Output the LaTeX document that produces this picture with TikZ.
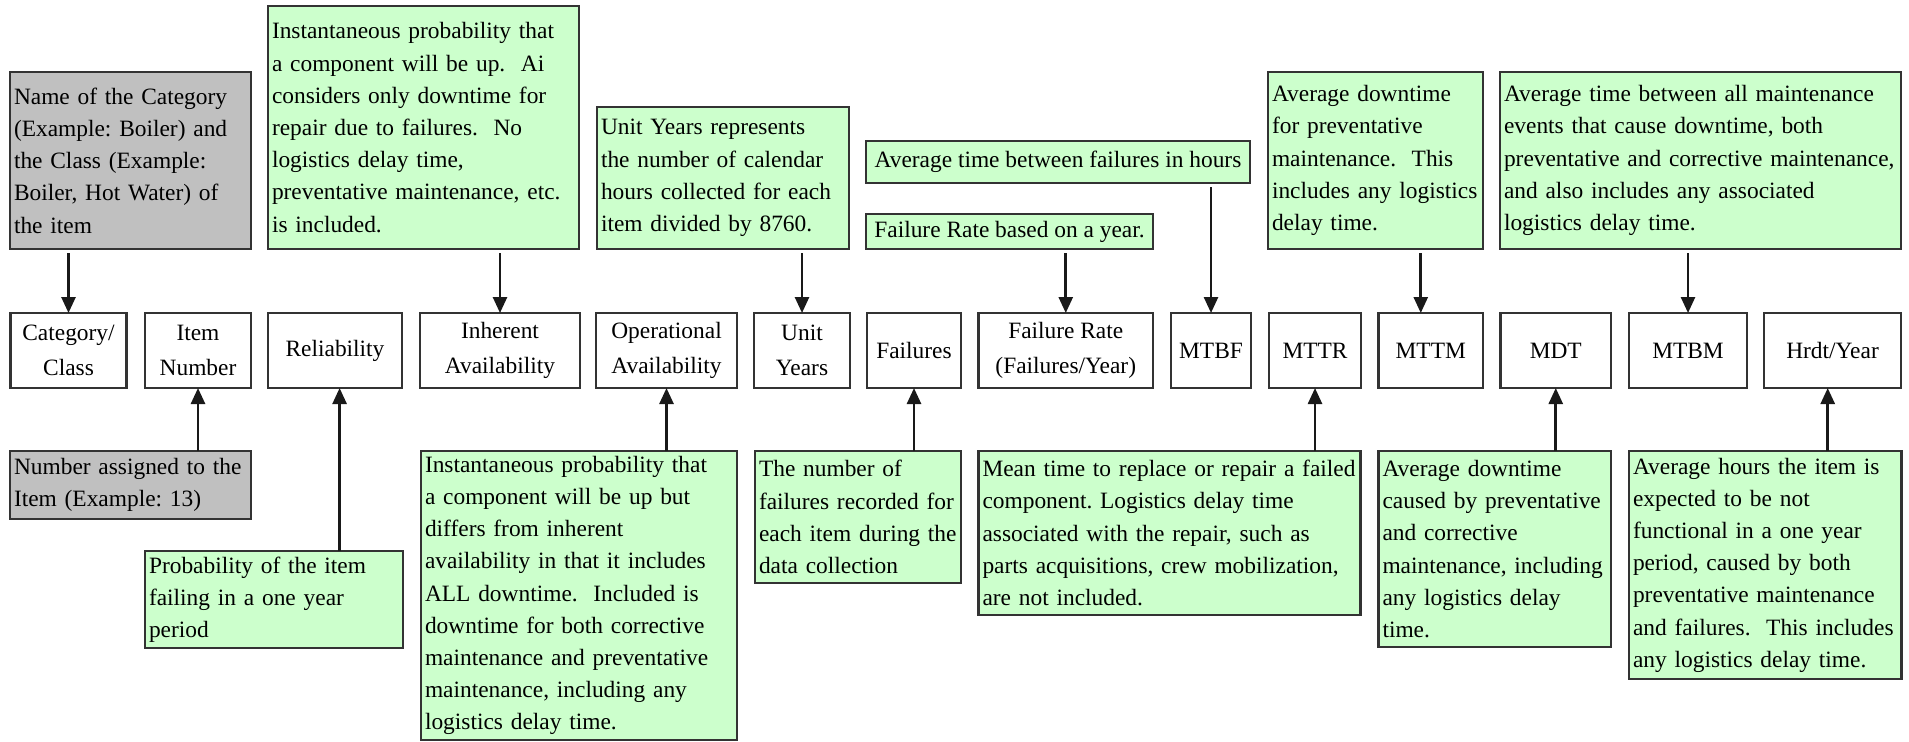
\documentclass[tikz,border=0pt]{standalone}
\usepackage{fontspec}
\setmainfont{Liberation Serif}
\usetikzlibrary{arrows.meta}

\newlength{\du}
\setlength{\du}{0.5pt}

\definecolor{boxline}{rgb}{0.200000, 0.200000, 0.200000}
\definecolor{notegreen}{rgb}{0.800000, 1.000000, 0.800000}
\definecolor{notegray}{rgb}{0.752941, 0.752941, 0.752941}

\tikzset{
  every node/.style={font=\fontsize{11.7pt}{16.1pt}\selectfont, outer sep=0pt},
  notebase/.style={draw=boxline, line width=2.2\du, fill=notegreen, anchor=north west,
    align=left, inner xsep=4\du, inner ysep=2\du},
  note/.style 2 args={notebase, text width=#1\du, minimum height=#2\du},
  shortnote/.style 2 args={notebase, inner xsep=2\du, minimum width=#1\du, minimum height=#2\du},
  graynote/.style 2 args={note={#1}{#2}, fill=notegray},
  field/.style={draw=boxline, line width=2.2\du, fill=white, anchor=north west, align=center,
    minimum height=75\du, inner sep=2\du, font=\fontsize{11.7pt}{17.5pt}\selectfont},
  pointer/.style={draw=black!90, line width=2.6\du, -{Triangle[length=8pt,width=7pt]}},
}

\begin{document}
\frenchspacing
\begin{tikzpicture}
\pgftransformyscale{-1.000000}
\useasboundingbox (0\du,0\du) rectangle (1909\du,741\du);
% notes above the fields
\node[graynote={233}{177}] (namedesc) at (10\du,72\du) {Name of the Category\\(Example: Boiler) and\\the Class (Example:\\Boiler, Hot Water) of\\the item};
\node[note={303}{243}] (aidesc) at (268\du,6\du) {Instantaneous probability that\\a component will be up.\ \ Ai\\considers only downtime for\\repair due to failures.\ \ No\\logistics delay time,\\preventative maintenance, etc.\\is included.};
\node[note={244}{142}] (uydesc) at (597\du,107\du) {Unit Years represents\\the number of calendar\\hours collected for each\\item divided by 8760.};
\node[shortnote={384}{42}] (mtbfdesc) at (866\du,141\du) {Average time between failures in hours};
\node[shortnote={287}{35}] (frdesc) at (866\du,214\du) {Failure Rate based on a year.};
\node[note={207}{177}] (mttmdesc) at (1268\du,72\du) {Average downtime\\for preventative\\maintenance.\ \ This\\includes any logistics\\delay time.};
\node[note={393}{177}] (mtbmdesc) at (1500\du,72\du) {Average time between all maintenance\\events that cause downtime, both\\preventative and corrective maintenance,\\and also includes any associated\\logistics delay time.};
% the fields
\node[field, minimum width=116\du] (catclass) at (10.5\du,313\du) {Category/\\Class};
\node[field, minimum width=106\du] (itemnum) at (145\du,313\du) {Item\\Number};
\node[field, minimum width=134\du] (relname) at (268\du,313\du) {Reliability};
\node[field, minimum width=160\du] (inhname) at (420\du,313\du) {Inherent\\Availability};
\node[field, minimum width=141\du] (opname) at (596\du,313\du) {Operational\\Availability};
\node[field, minimum width=96\du] (uyname) at (754\du,313\du) {Unit\\Years};
\node[field, minimum width=94\du] (failname) at (867\du,313\du) {Failures};
\node[field, minimum width=174.5\du] (frname) at (978.5\du,313\du) {Failure Rate\\(Failures/Year)};
\node[field, minimum width=80\du] (mtbfname) at (1171\du,313\du) {MTBF};
\node[field, minimum width=92\du] (mttrname) at (1269\du,313\du) {MTTR};
\node[field, minimum width=104.5\du] (mttmname) at (1378.5\du,313\du) {MTTM};
\node[field, minimum width=110.5\du] (mdtname) at (1500.5\du,313\du) {MDT};
\node[field, minimum width=118\du] (mtbmname) at (1629\du,313\du) {MTBM};
\node[field, minimum width=137\du] (hrdtname) at (1764\du,313\du) {Hrdt/Year};
% notes below the fields
\node[graynote={233}{68}] (itemdesc) at (10\du,451\du) {Number assigned to the\\Item (Example: 13)};
\node[note={250}{97}] (reldesc) at (145\du,551\du) {Probability of the item\\failing in a one year\\period};
\node[note={308}{289}] (opdesc) at (421\du,451\du) {Instantaneous probability that\\a component will be up but\\differs from inherent\\availability in that it includes\\ALL downtime.\ \ Included is\\downtime for both corrective\\maintenance and preventative\\maintenance, including any\\logistics delay time.};
\node[note={198}{132}] (faildesc) at (755\du,451\du) {The number of\\failures recorded for\\each item during the\\data collection};
\node[note={374}{164}] (mttrdesc) at (978.5\du,451\du) {Mean time to replace or repair a failed\\component. Logistics delay time\\associated with the repair, such as\\parts acquisitions, crew mobilization,\\are not included.};
\node[note={224.5}{196}] (mdtdesc) at (1378.5\du,451\du) {Average downtime\\caused by preventative\\and corrective\\maintenance, including\\any logistics delay\\time.};
\node[note={264.5}{228}] (hrdtdesc) at (1629\du,451\du) {Average hours the item is\\expected to be not\\functional in a one year\\period, caused by both\\preventative maintenance\\and failures.\ \ This includes\\any logistics delay time.};
% arrows down
\draw[pointer, shorten <=2pt] (namedesc.south -| catclass.north) -- (catclass.north);
\draw[pointer, shorten <=2pt] (aidesc.south -| inhname.north) -- (inhname.north);
\draw[pointer, shorten <=2pt] (uydesc.south -| uyname.north) -- (uyname.north);
\draw[pointer, shorten <=2pt] (frdesc.south -| frname.north) -- (frname.north);
\draw[pointer, shorten <=2pt] (mtbfdesc.south -| mtbfname.north) -- (mtbfname.north);
\coordinate (mttmin) at ([xshift=-5pt]mttmname.north);
\draw[pointer, shorten <=2pt] (mttmdesc.south -| mttmin) -- (mttmin);
\draw[pointer, shorten <=2pt] (mtbmdesc.south -| mtbmname.north) -- (mtbmname.north);
% arrows up
\draw[pointer] (itemdesc.north -| itemnum.south) -- (itemnum.south);
\coordinate (relin) at ([xshift=2.3pt]relname.south);
\draw[pointer] (reldesc.north -| relin) -- (relin);
\draw[pointer] (opdesc.north -| opname.south) -- (opname.south);
\draw[pointer] (faildesc.north -| failname.south) -- (failname.south);
\draw[pointer] (mttrdesc.north -| mttrname.south) -- (mttrname.south);
\draw[pointer] (mdtdesc.north -| mdtname.south) -- (mdtname.south);
\coordinate (hrdtin) at ([xshift=-2.4pt]hrdtname.south);
\draw[pointer] (hrdtdesc.north -| hrdtin) -- (hrdtin);
\end{tikzpicture}
\end{document}
